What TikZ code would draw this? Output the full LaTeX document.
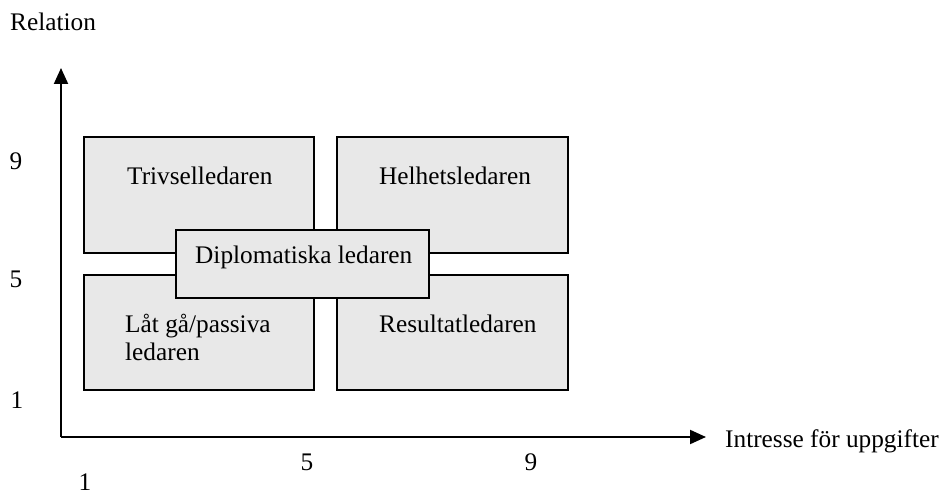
\documentclass[tikz,border=0pt]{standalone}
\usepackage{fontspec}
\setmainfont{Liberation Serif}
\usetikzlibrary{arrows.meta}
\definecolor{boxgray}{RGB}{232,232,232}
\tikzset{
  box/.style={draw=black, fill=boxgray, line width=2pt, inner sep=0pt, outer sep=0pt, rectangle},
  lbl/.style={inner sep=0pt, font=\fontsize{25.3}{30}\selectfont},
  axis/.style={line width=2pt, -{Triangle[length=16pt,width=14pt]}}
}
\begin{document}
\begin{tikzpicture}[x=1pt,y=-1pt]
\useasboundingbox (0,0) rectangle (941,494);
% boxes
\node[box, minimum width=230pt, minimum height=116pt] (b1) at (199,195) {};
\node[box, minimum width=231pt, minimum height=116pt] (b2) at (452.5,195) {};
\node[box, minimum width=230pt, minimum height=115pt] (b3) at (199,332.5) {};
\node[box, minimum width=231pt, minimum height=115pt] (b4) at (452.5,332.5) {};
\node[box, minimum width=253pt, minimum height=68pt] (b5) at (302.5,264) {};
% box texts
\node[lbl, anchor=base west] (t1) at (127,185) {Trivselledaren};
\node[lbl, anchor=base west] (t2) at (379,185) {Helhetsledaren};
\node[lbl, anchor=base west] (t3a) at (125,332) {Låt gå/passiva};
\node[lbl, anchor=base west] (t3b) at (125,360) {ledaren};
\node[lbl, anchor=base west] (t4) at (379,332) {Resultatledaren};
\node[lbl, anchor=base west] (t5) at (195,263) {Diplomatiska ledaren};
% axes
\coordinate (O) at (61,437);
\coordinate (ytip) at (61,68);
\coordinate (xtip) at (706,437);
\draw[axis] (O) -- (ytip);
\draw[axis] (O) -- (xtip);
% axis labels
\node[lbl, anchor=base west] (rel) at (10,31) {Relation};
\node[lbl, anchor=base west] (upp) at (725,447) {Intresse för uppgifter};
\node[lbl, anchor=base] (y9) at (16,170) {9};
\node[lbl, anchor=base] (y5) at (16,287) {5};
\node[lbl, anchor=base] (y1) at (17,408) {1};
\node[lbl, anchor=base] (x1) at (85,490) {1};
\node[lbl, anchor=base] (x5) at (307,470) {5};
\node[lbl, anchor=base] (x9) at (531,470) {9};
\end{tikzpicture}
\end{document}
